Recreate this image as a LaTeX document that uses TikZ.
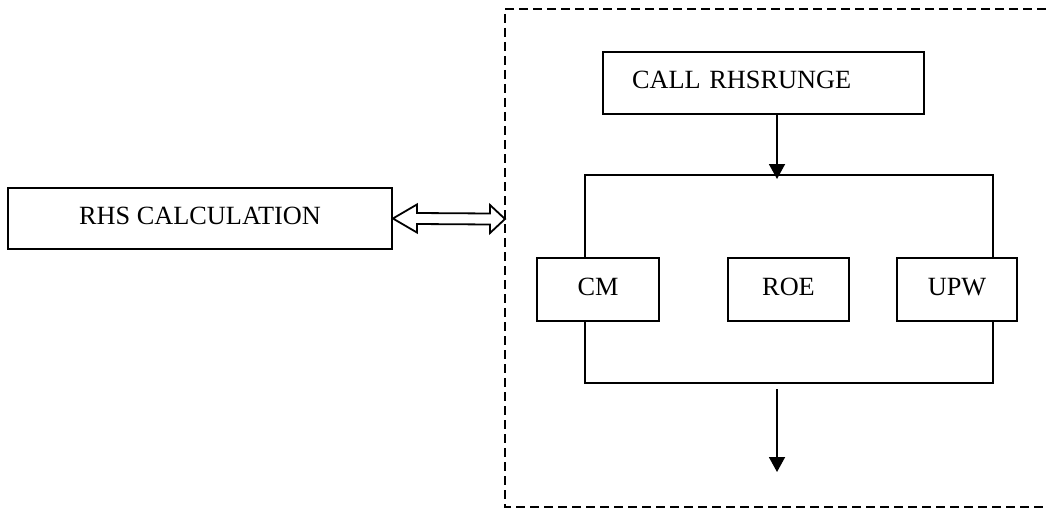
\documentclass[tikz,border=0pt]{standalone}
\usepackage{fontspec}
\setmainfont{Liberation Serif}
\usetikzlibrary{arrows.meta,calc}
\begin{document}
\begin{tikzpicture}[x=1pt,y=-1pt,
  box/.style={draw,line width=1.8pt,inner sep=0pt,font=\fontsize{26.3}{30}\selectfont,
    text height=18pt,text depth=6pt},
  conn/.style={line width=1.8pt},
  arr/.style={line width=1.8pt,-{Triangle[length=15pt,width=16pt]}},
  dashbox/.style={line width=1.8pt,dash pattern=on 9pt off 5pt}]
\useasboundingbox (0,0) rectangle (1048,508);
% dashed enclosure
\draw[dashbox] (1060,9) -- (505,9) -- (505,507) -- (1060,507);
\coordinate (dbl) at (505,219);
% nodes
\node[box,minimum width=384pt,minimum height=61pt] (rhs) at (200,218.5) {RHS CALCULATION};
\node[box,minimum width=321pt,minimum height=62pt,text width=263pt,align=left,
  inner xsep=29pt] (call) at (763.5,83) {CALL RHSRUNGE};
\node[box,minimum width=122pt,minimum height=63pt] (cm) at (598,289.5) {CM};
\node[box,minimum width=121pt,minimum height=63pt] (roe) at (788.5,289.5) {ROE};
\node[box,minimum width=120pt,minimum height=63pt] (upw) at (957,289.5) {UPW};
% frame coordinates
\coordinate (tl) at (585,175);
\coordinate (tr) at (993,175);
\coordinate (bl) at (585,383);
\coordinate (br) at (993,383);
\coordinate (j) at (777,175);
\coordinate (outs) at (777,389);
\coordinate (oute) at (777,472);
% frame
\draw[conn] (cm.north -| tl) |- (tr) -- (upw.north -| tr);
\draw[conn] (cm.south -| bl) |- (br) -- (upw.south -| br);
% arrows
\draw[arr] (call.south -| j) -- ($(j)+(0,4)$);
\draw[arr] (outs) -- (oute);
% double open arrow
\draw[line width=1.8pt,line join=miter]
  (rhs.east) -- ($(rhs.east)+(24,-14)$) -- ($(rhs.east)+(24,-5.5)$)
  -- ($(dbl)+(-15,-5.5)$) -- ($(dbl)+(-15,-14)$) -- (dbl)
  -- ($(dbl)+(-15,14)$) -- ($(dbl)+(-15,5.5)$)
  -- ($(rhs.east)+(24,5.5)$) -- ($(rhs.east)+(24,14)$) -- cycle;
\end{tikzpicture}
\end{document}
